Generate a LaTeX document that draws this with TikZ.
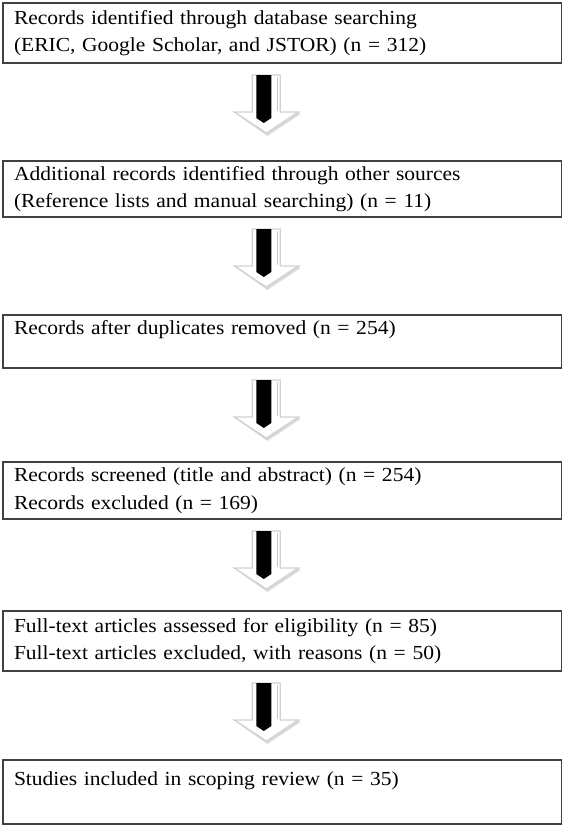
\documentclass[tikz,border=0pt]{standalone}
\usepackage{fontspec}
\setmainfont{Liberation Serif}[FakeStretch=1.08]

\begin{document}
\begin{tikzpicture}[x=0.03cm,y=-0.03cm,
  box/.style={draw=black!75,line width=0.9pt,anchor=north west,outer sep=0pt,
    text width=16.1cm,inner xsep=0.33cm,inner ysep=0pt,align=left,
    font=\fontsize{17}{23.5}\selectfont},
  arrowbody/.style={fill=white,draw=gray!35,line width=1.1pt,line join=miter},
  arrowcore/.style={fill=black}]
\useasboundingbox (0,0) rectangle (566,828);

% boxes
\node[box,minimum height=1.80cm] (ident) at (3,3)
  {Records identified through database searching\\(ERIC, Google Scholar, and JSTOR) (n = 312)};
\node[box,minimum height=1.68cm] (extra) at (3,161)
  {Additional records identified through other sources\\(Reference lists and manual searching) (n = 11)};
\node[box,minimum height=1.59cm] (dedup) at (3,315)
  {Records after duplicates removed (n = 254)\\\mbox{}};
\node[box,minimum height=1.71cm] (screen) at (3,462)
  {Records screened (title and abstract) (n = 254)\\Records excluded (n = 169)};
\node[box,minimum height=1.80cm] (full) at (3,611)
  {Full-text articles assessed for eligibility (n = 85)\\Full-text articles excluded, with reasons (n = 50)};
\node[box,minimum height=1.92cm] (incl) at (3,760)
  {Studies included in scoping review (n = 35)\\\mbox{}};

% block arrows between the boxes
\foreach \a in {ident,extra,dedup,screen,full}{
  \begin{scope}[shift={(\a.south)},shift={(-17,12)}]
    \fill[gray!30] (-29,39) -- (2,61) -- (35,39) -- (33,37) -- (1,58) -- (-31,37) -- cycle;
    \draw[arrowbody] (-13,0) -- (15,0) -- (15,37) -- (33,37) -- (1,58)
      -- (-31,37) -- (-13,37) -- cycle;
    \draw[gray!45,line width=1.2pt] (12,2) -- (12,36);
    \fill[arrowcore] (-9,0) -- (6,0) -- (6,43) -- (-1.5,48) -- (-9,43) -- cycle;
  \end{scope}
}
\end{tikzpicture}
\end{document}
